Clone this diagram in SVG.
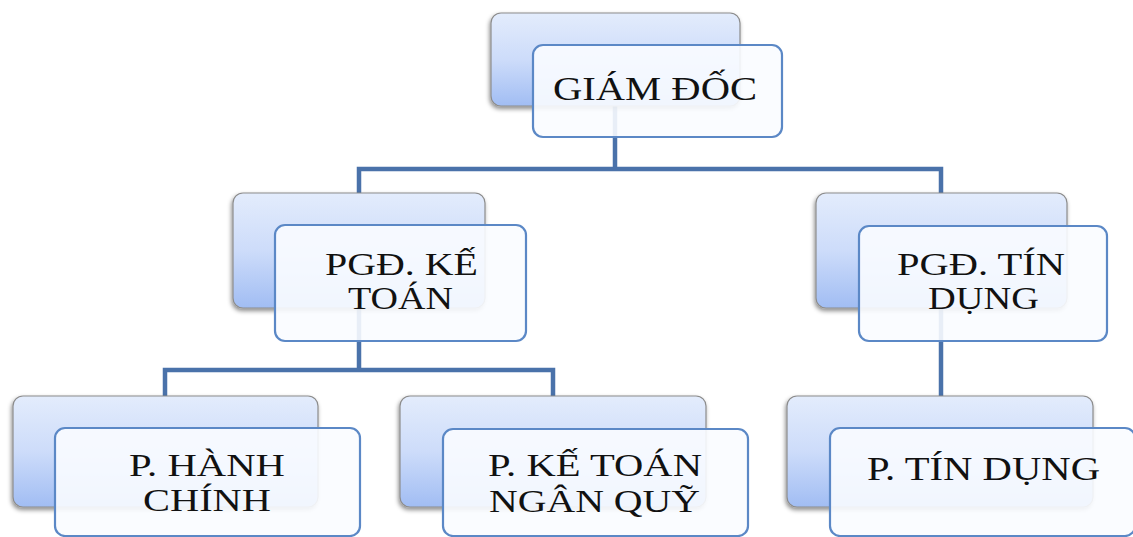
<svg xmlns="http://www.w3.org/2000/svg" width="1133" height="537" viewBox="0 0 1133 537">
  <defs>
    <linearGradient id="backGrad" x1="0" y1="0" x2="0" y2="1">
      <stop offset="0" stop-color="#e3ecfc"/>
      <stop offset="0.5" stop-color="#cddcfa"/>
      <stop offset="1" stop-color="#a1bdf3"/>
    </linearGradient>
    <filter id="shadow" x="-10%" y="-10%" width="120%" height="130%">
      <feDropShadow dx="-1" dy="2.5" stdDeviation="2" flood-color="#000" flood-opacity="0.45"/>
    </filter>
    <style>
      .back { fill: url(#backGrad); stroke: #8c8c8c; stroke-width: 1.2; filter: url(#shadow); }
      .front { fill: #fafcff; fill-opacity: 0.9; stroke: #5b88c6; stroke-width: 2.2; }
      .conn { fill: none; stroke: #4a72aa; stroke-width: 4.5; stroke-linejoin: miter; }
      .lbl { font-family: "Liberation Serif", "Times New Roman", serif; font-size: 33px; fill: #111; }
      .ml { font-size: 31px; }
    </style>
  </defs>
  <rect width="1133" height="537" fill="#ffffff"/>

  <g id="connectors">
    <path class="conn" d="M615,106 V169"/>
    <path class="conn" d="M359,193 V169 H941 V193"/>
    <path class="conn" d="M359,308 V370"/>
    <path class="conn" d="M165,396 V370 H553 V396"/>
    <path class="conn" d="M941,308 V396"/>
  </g>

  <g id="giam-doc">
    <rect class="back" x="491" y="13" width="249" height="93" rx="10"/>
    <rect class="front" x="533" y="45" width="249" height="92" rx="10"/>
    <text class="lbl" x="553" y="100" textLength="204" lengthAdjust="spacingAndGlyphs">GIÁM ĐỐC</text>
  </g>

  <g id="pgd-ke-toan">
    <rect class="back" x="233" y="193" width="252" height="115" rx="10"/>
    <rect class="front" x="275" y="225" width="251" height="116" rx="10"/>
    <text class="lbl ml"><tspan x="325" y="275" textLength="153" lengthAdjust="spacingAndGlyphs">PGĐ. KẾ</tspan><tspan x="348" y="309" textLength="105" lengthAdjust="spacingAndGlyphs">TOÁN</tspan></text>
  </g>

  <g id="pgd-tin-dung">
    <rect class="back" x="816" y="193" width="251" height="115" rx="10"/>
    <rect class="front" x="859" y="226" width="248" height="115" rx="10"/>
    <text class="lbl ml"><tspan x="897" y="275" textLength="168" lengthAdjust="spacingAndGlyphs">PGĐ. TÍN</tspan><tspan x="928" y="309" textLength="111" lengthAdjust="spacingAndGlyphs">DỤNG</tspan></text>
  </g>

  <g id="p-hanh-chinh">
    <rect class="back" x="13" y="396" width="305" height="111" rx="10"/>
    <rect class="front" x="55" y="428" width="305" height="108" rx="10"/>
    <text class="lbl ml"><tspan x="129" y="476" textLength="156" lengthAdjust="spacingAndGlyphs">P. HÀNH</tspan><tspan x="143" y="511" textLength="128" lengthAdjust="spacingAndGlyphs">CHÍNH</tspan></text>
  </g>

  <g id="p-ke-toan-ngan-quy">
    <rect class="back" x="400" y="396" width="306" height="111" rx="10"/>
    <rect class="front" x="443" y="429" width="305" height="107" rx="10"/>
    <text class="lbl ml"><tspan x="488" y="476" textLength="214" lengthAdjust="spacingAndGlyphs">P. KẾ TOÁN</tspan><tspan x="489" y="512" textLength="211" lengthAdjust="spacingAndGlyphs">NGÂN QUỸ</tspan></text>
  </g>

  <g id="p-tin-dung">
    <rect class="back" x="787" y="396" width="306" height="111" rx="10"/>
    <rect class="front" x="830" y="428" width="305" height="108" rx="10"/>
    <text class="lbl" x="867" y="480" textLength="233" lengthAdjust="spacingAndGlyphs">P. TÍN DỤNG</text>
  </g>
</svg>
